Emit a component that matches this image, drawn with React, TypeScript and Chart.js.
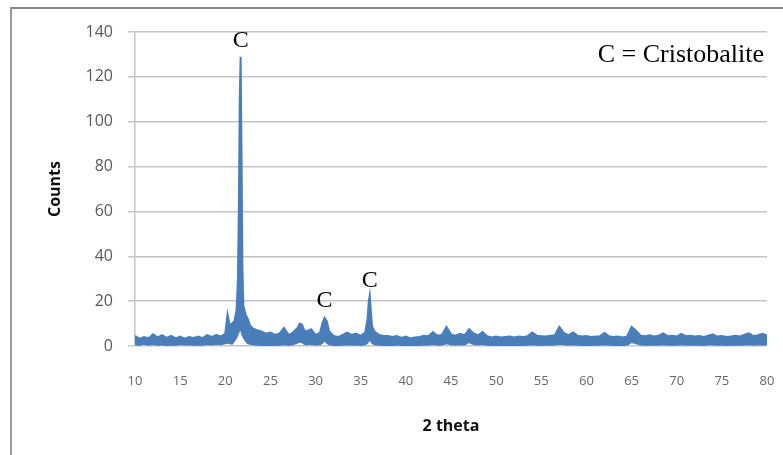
import { useEffect, useRef } from 'react';
import { Chart, registerables } from 'chart.js';

Chart.register(...registerables);

// Diffraction scan: 2θ positions with the upper and lower edge of the noisy count trace
const twoTheta = [
  10, 10.5, 11, 11.5, 12, 12.5, 13, 13.5, 14, 14.5, 15, 15.5, 16, 16.5, 17, 17.5, 18, 18.5, 19, 19.5, 20,
  20.25, 20.5, 20.75, 21, 21.25, 21.4, 21.5, 21.6, 21.7, 21.8, 21.9, 22, 22.25, 22.5, 22.75, 23, 23.5,
  24, 24.5, 25, 25.5, 26, 26.5, 27, 27.5, 28, 28.25, 28.5, 28.75, 29, 29.5, 30, 30.5, 30.75, 31, 31.25, 31.5,
  32, 32.5, 33, 33.5, 34, 34.5, 35, 35.5, 35.75, 35.9, 36, 36.1, 36.25, 36.5, 37, 37.5,
  38, 38.5, 39, 39.5, 40, 40.5, 41, 41.5, 42, 42.5, 43, 43.5,
  44, 44.5, 45, 45.5, 46, 46.5, 47, 47.5, 48, 48.5, 49, 49.5,
  50, 50.5, 51, 51.5, 52, 52.5, 53, 53.5, 54, 54.5, 55, 55.5,
  56, 56.5, 57, 57.5, 58, 58.5, 59, 59.5, 60, 60.5, 61, 61.5,
  62, 62.5, 63, 63.5, 64, 64.5, 65, 65.5, 66, 66.5, 67, 67.5,
  68, 68.5, 69, 69.5, 70, 70.5, 71, 71.5, 72, 72.5, 73, 73.5,
  74, 74.5, 75, 75.5, 76, 76.5, 77, 77.5, 78, 78.5, 79, 79.5,
  80,
];

const countsHigh = [
  4.5, 3.2, 4.0, 3.5, 5.2, 3.8, 4.8, 3.6, 4.5, 3.4, 4.2, 3.3, 4.0, 3.6, 4.2, 3.5, 4.8, 4.0, 5.0, 4.2, 5.5,
  14, 9, 10, 11, 16, 30, 60, 110, 129, 85, 35, 18, 14, 12, 9, 8, 7,
  6.5, 5.5, 6, 5, 5.5, 8, 5, 6, 8, 10, 9.5, 7, 6.5, 7.5, 5, 6, 10, 12.5, 11, 6.5,
  4.5, 4, 5, 6, 5, 5.5, 4.5, 6, 12, 20, 22.5, 17, 9, 6.5, 5, 4.5,
  4.5, 4.0, 4.4, 3.6, 4.2, 3.4, 3.8, 4.0, 4.6, 4.4, 6.2, 4.6,
  5.0, 8.5, 5.2, 4.6, 5.4, 4.8, 7.5, 5.6, 4.8, 6.2, 4.4, 3.8,
  4.2, 3.8, 4.0, 4.2, 3.8, 4.2, 4.0, 4.4, 6.0, 4.6, 4.4, 4.2,
  4.6, 4.8, 8.5, 5.8, 4.8, 6.0, 4.6, 4.2, 4.4, 4.0, 4.2, 4.4,
  5.8, 4.4, 4.0, 4.2, 3.8, 4.2, 8.5, 6.8, 4.6, 4.4, 4.8, 4.2,
  4.6, 5.6, 4.4, 4.6, 4.2, 5.4, 4.4, 4.6, 4.2, 4.4, 4.0, 4.6,
  5.2, 4.2, 4.4, 4.0, 4.2, 4.6, 4.2, 5.0, 5.6, 4.4, 4.8, 5.4,
  4.6,
];

const countsLow = [
  0.8, 0.5, 1.0, 0.6, 0.9, 0.5, 0.8, 0.4, 0.7, 0.5, 0.9, 0.6, 0.8, 0.5, 0.7, 0.6, 0.9, 0.7, 1.0, 0.8, 1.2,
  1.5, 1.2, 1.0, 2.5, 4, 5.5, 6.5, 7.5, 7.5, 6.5, 5, 4, 2.5, 1.2, 1.0, 0.8, 0.6,
  0.5, 0.3, 0.6, 0.4, 0.5, 0.8, 0.5, 0.8, 1.5, 2, 1.8, 1, 0.8, 1, 0.6, 0.8, 1.5, 2.5, 1.5, 0.8,
  0.5, 0.5, 0.6, 0.8, 0.6, 0.7, 0.5, 0.8, 1.5, 2.5, 3, 2.5, 1.5, 0.8, 0.6, 0.5,
  0.6, 0.4, 0.7, 0.5, 0.6, 0.4, 0.6, 0.5, 0.7, 0.6, 0.9, 0.6,
  0.7, 1.2, 0.8, 0.6, 0.8, 0.7, 1.8, 0.9, 0.7, 0.9, 0.6, 0.5,
  0.6, 0.5, 0.6, 0.5, 0.4, 0.6, 0.5, 0.6, 0.8, 0.6, 0.5, 0.6,
  0.6, 0.7, 1.0, 0.8, 0.6, 0.8, 0.6, 0.5, 0.6, 0.5, 0.6, 0.6,
  0.8, 0.6, 0.5, 0.6, 0.5, 0.6, 1.8, 1.2, 0.7, 0.6, 0.7, 0.6,
  0.6, 0.8, 0.6, 0.7, 0.6, 0.8, 0.6, 0.7, 0.6, 0.6, 0.5, 0.7,
  0.7, 0.6, 0.6, 0.5, 0.6, 0.7, 0.6, 0.7, 0.8, 0.6, 0.7, 0.8,
  0.7,
];

// Axis ranges
const thetaRange = [10, 80];
const thetaStep = 5;
const countRange = [0, 140];
const countStep = 20;

// Phase markers above the reflections
const peakLabels = ['C', 'C', 'C'];
const peakTheta = [21.7, 31.0, 36.0];
const peakLabelCounts = [136, 20, 29];
const phaseKey = 'C = Cristobalite';

const BLUE = '#4a7ebb';
const SERIF = '"Liberation Serif", "Times New Roman", serif';
const SANS = '"Open Sans", "Liberation Sans", sans-serif';

const phaseMarkers = {
  id: 'phaseMarkers',
  afterDatasetsDraw(chart: any) {
    const { ctx, scales, chartArea } = chart;
    ctx.save();
    ctx.fillStyle = '#000';
    ctx.font = `24px ${SERIF}`;
    ctx.textAlign = 'center';
    ctx.textBaseline = 'middle';
    peakLabels.forEach((label, i) => {
      ctx.fillText(label, scales.x.getPixelForValue(peakTheta[i]), scales.y.getPixelForValue(peakLabelCounts[i]));
    });
    ctx.font = `26px ${SERIF}`;
    ctx.textAlign = 'right';
    ctx.fillText(phaseKey, chartArea.right - 3, chartArea.top + 23);
    ctx.restore();
  },
};

export default function App() {
  const canvasRef = useRef<HTMLCanvasElement | null>(null);

  useEffect(() => {
    const canvas = canvasRef.current;
    if (!canvas) return;
    const chart = new Chart(canvas, {
      type: 'line',
      data: {
        datasets: [
          {
            label: 'Counts (upper)',
            data: twoTheta.map((t, i) => ({ x: t, y: countsHigh[i] })),
            borderColor: BLUE,
            backgroundColor: BLUE,
            borderWidth: 2,
            pointRadius: 0,
            tension: 0,
            fill: '+1',
          },
          {
            label: 'Counts (lower)',
            data: twoTheta.map((t, i) => ({ x: t, y: countsLow[i] })),
            borderColor: BLUE,
            backgroundColor: BLUE,
            borderWidth: 2,
            pointRadius: 0,
            tension: 0,
            fill: false,
          },
        ],
      },
      options: {
        responsive: false,
        animation: false,
        layout: { padding: { left: 0, right: 16, top: 32, bottom: 0 } },
        plugins: {
          legend: { display: false },
          tooltip: { enabled: false },
        },
        scales: {
          x: {
            type: 'linear',
            min: thetaRange[0],
            max: thetaRange[1],
            grid: { display: false, drawTicks: false },
            border: { display: false },
            ticks: {
              stepSize: thetaStep,
              color: '#666',
              font: { family: SANS, size: 13 },
              padding: 27,
              maxRotation: 0,
            },
            title: {
              display: true,
              text: '2 theta',
              color: '#111',
              font: { family: SANS, size: 16, weight: 'bold' },
              padding: { top: 0, bottom: 19 },
            },
            afterFit(scale: any) {
              scale.height = 109;
              // label overhang is absorbed by the layout padding
              scale.paddingLeft = 0;
              scale.paddingRight = 0;
            },
          },
          y: {
            min: countRange[0],
            max: countRange[1],
            grid: { color: '#c4c4c4', lineWidth: 1.5, drawTicks: true, tickLength: 7 },
            border: { display: true, color: '#c4c4c4', width: 1.5 },
            ticks: {
              stepSize: countStep,
              color: '#595959',
              font: { family: SANS, size: 16 },
              padding: 15,
            },
            title: {
              display: true,
              text: 'Counts',
              color: '#111',
              font: { family: SANS, size: 16, weight: 'bold' },
              padding: { top: 46, bottom: 0 },
            },
            afterFit(scale: any) {
              scale.width = 135;
            },
          },
        },
      },
      plugins: [phaseMarkers],
    });
    return () => chart.destroy();
  }, []);

  return (
    <div
      style={{
        position: 'fixed',
        left: 0,
        top: 0,
        width: 783,
        height: 455,
        overflow: 'hidden',
        background: '#fff',
      }}
    >
      <div
        style={{
          position: 'absolute',
          left: 10,
          top: 7,
          width: 800,
          height: 470,
          borderTop: '2px solid #858585',
          borderLeft: '2px solid #9a9a9a',
        }}
      />
      <canvas
        ref={canvasRef}
        width={783}
        height={455}
        style={{ position: 'absolute', left: 0, top: 0 }}
      />
    </div>
  );
}
